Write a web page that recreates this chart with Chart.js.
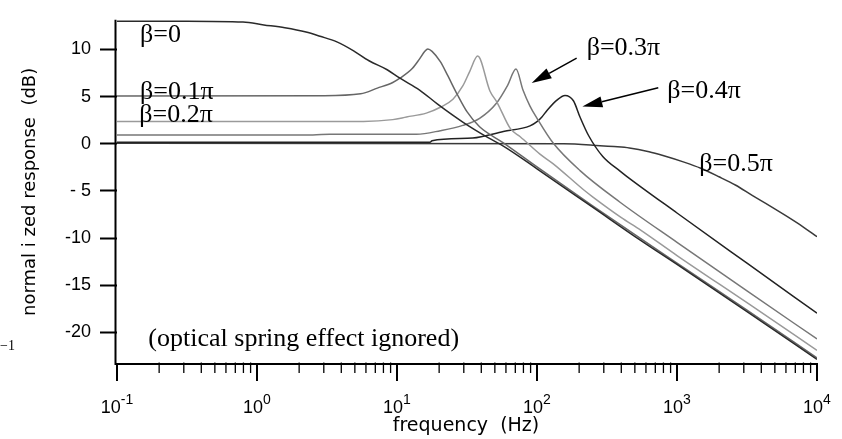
<!DOCTYPE html>
<html>
<head>
<meta charset="utf-8">
<script src="https://cdn.jsdelivr.net/npm/chart.js@4.4.1/dist/chart.umd.min.js"></script>
<style>
html,body{margin:0;padding:0;background:#fff;}
canvas{display:block;}
</style>
</head>
<body>
<canvas id="c" width="842" height="439"></canvas>
<script>
// ---- data (frequency in Hz, response in dB) ----
const seriesNames = ['β=0', 'β=0.1π', 'β=0.2π', 'β=0.3π', 'β=0.4π', 'β=0.5π'];

const freqB0 = [0.1, 0.316, 0.794, 1.12, 1.58, 2.24, 2.82, 3.72, 4.9, 6.31, 8.51, 10.5, 14.5, 19.5, 29.5, 44.7, 57.5, 100, 251, 550, 1000, 3162, 10000];
const dbB0   = [13.0, 13.0, 12.9, 12.6, 12.3, 11.85, 11.4, 10.8, 9.85, 8.8, 7.85, 6.95, 5.7, 4.2, 2.3, 0.65, -0.25, -2.65, -6.75, -10.25, -12.8, -17.8, -22.85];

const freqB1 = [0.1, 2.95, 5.5, 7.24, 9.33, 10.5, 12.9, 14.5, 15.8, 16.6, 17.8, 20.4, 22.9, 26.9, 31.6, 38.9, 57.5, 100, 251, 1000, 3162, 10000];
const dbB1   = [5.07, 5.1, 5.3, 5.9, 6.5, 6.95, 8.0, 9.0, 9.8, 10.05, 9.8, 8.7, 7.3, 5.25, 3.4, 1.8, 0.1, -2.45, -6.6, -12.65, -17.65, -22.7];

const freqB2 = [0.1, 5.75, 9.33, 11.7, 16.2, 20.4, 25.1, 29.5, 33.1, 37.7, 46.1, 51.8, 64.6, 75.9, 105, 130, 214, 251, 398, 550, 1000, 3162, 10000];
const dbB2   = [2.37, 2.37, 2.56, 2.84, 3.25, 3.87, 4.72, 6.13, 7.68, 9.3, 5.6, 4.4, 1.6, 0.75, -1.1, -2.1, -4.85, -5.65, -7.8, -9.15, -11.85, -16.85, -21.9];

const freqB3 = [0.1, 2.51, 3.31, 13.8, 20.4, 29.5, 38.9, 51.3, 61.7, 70.8, 79.4, 89.1, 100, 130, 203, 392, 1000, 3162, 10000];
const dbB3   = [0.93, 0.93, 1.01, 1.01, 1.39, 1.95, 2.7, 4.3, 6.2, 7.92, 5.7, 4.0, 2.7, 0.1, -2.85, -6.2, -10.45, -15.6, -20.7];

const freqB4 = [0.1, 17.2, 17.8, 34.7, 57.5, 89.1, 100, 108.4, 117.5, 138, 158.5, 182, 202.8, 234, 295, 392, 437, 1000, 3162, 10000];
const dbB4   = [0.15, 0.15, 0.33, 0.6, 1.29, 1.9, 2.35, 2.85, 3.5, 4.6, 5.13, 4.56, 2.84, 0.85, -1.35, -2.9, -3.45, -7.34, -12.66, -17.96];

const freqB5 = [0.1, 155, 282, 355, 457, 631, 794, 1122, 1479, 1995, 2630, 3467, 4571, 6026, 7943, 10000];
const dbB5   = [0.05, 0.0, -0.2, -0.3, -0.45, -0.85, -1.25, -1.95, -2.6, -3.5, -4.4, -5.5, -6.55, -7.65, -8.8, -9.85];

const yTickValues = [-20, -15, -10, -5, 0, 5, 10];
const yTickLabels = ['-20', '-15', '-10', '- 5', '0', '5', '10'];
const xTickExponents = [-1, 0, 1, 2, 3, 4];

// annotation texts anchored in data coordinates (left edge, baseline)
const noteTexts = ['β=0', 'β=0.1π', 'β=0.2π', 'β=0.3π', 'β=0.4π', 'β=0.5π', '(optical spring effect ignored)'];
const noteFreq  = [0.146, 0.146, 0.1443, 226.5, 853, 1442, 0.1675];
const noteDb    = [10.8, 4.72, 2.32, 9.36, 4.9, -2.94, -21.39];

// arrows: tail (freq, dB) -> tip (freq, dB)
const arrowTailF = [192, 735];
const arrowTailDb = [9.09, 5.93];
const arrowTipF = [91.6, 211];
const arrowTipDb = [6.44, 3.94];

// ---- build chart ----
const pts = (f, d) => f.map((v, i) => ({x: v, y: d[i]}));
const colors = ['#2a2a2a', '#666666', '#9a9a9a', '#777777', '#222222', '#3a3a3a'];
const allF = [freqB0, freqB1, freqB2, freqB3, freqB4, freqB5];
const allD = [dbB0, dbB1, dbB2, dbB3, dbB4, dbB5];
const datasets = seriesNames.map((n, i) => ({
  label: n,
  data: pts(allF[i], allD[i]),
  borderColor: colors[i],
  borderWidth: 1.5,
  pointRadius: 0,
  fill: false,
  cubicInterpolationMode: 'monotone'
}));

function drawArrow(ctx, x1, y1, x2, y2, len, hw) {
  const dx = x2 - x1, dy = y2 - y1, L = Math.hypot(dx, dy);
  const ux = dx / L, uy = dy / L;
  const bx = x2 - ux * len, by = y2 - uy * len;
  ctx.beginPath(); ctx.moveTo(x1, y1); ctx.lineTo(bx, by); ctx.stroke();
  ctx.beginPath();
  ctx.moveTo(x2, y2);
  ctx.lineTo(bx - uy * hw, by + ux * hw);
  ctx.lineTo(bx + uy * hw, by - ux * hw);
  ctx.closePath(); ctx.fill();
}

const decor = {
  id: 'decor',
  afterDraw(chart) {
    const {ctx, chartArea: a, scales} = chart;
    const xs = scales.x, ys = scales.y;
    ctx.save();
    ctx.strokeStyle = '#000'; ctx.fillStyle = '#000';
    // axis lines
    ctx.lineWidth = 2;
    ctx.beginPath();
    ctx.moveTo(a.left - 1.5, a.top); ctx.lineTo(a.left - 1.5, a.bottom + 1);
    ctx.moveTo(a.left - 2.5, a.bottom); ctx.lineTo(a.right + 1, a.bottom);
    ctx.stroke();
    // x major ticks
    for (const e of xTickExponents) {
      const px = xs.getPixelForValue(Math.pow(10, e));
      ctx.lineWidth = 2;
      ctx.beginPath(); ctx.moveTo(px, a.bottom); ctx.lineTo(px, a.bottom + 17); ctx.stroke();
    }
    // x minor ticks
    ctx.lineWidth = 1.3;
    for (let e = -1; e < 4; e++) {
      for (let m = 2; m < 10; m++) {
        const px = xs.getPixelForValue(m * Math.pow(10, e));
        ctx.beginPath(); ctx.moveTo(px, a.bottom - 1.5); ctx.lineTo(px, a.bottom + 9); ctx.stroke();
      }
    }
    // x tick labels 10^n
    for (const e of xTickExponents) {
      const px = xs.getPixelForValue(Math.pow(10, e));
      ctx.font = '18px "Liberation Sans", Arial, sans-serif';
      const wb = ctx.measureText('10').width;
      ctx.font = '14px "Liberation Sans", Arial, sans-serif';
      const es = String(e);
      const we = ctx.measureText(es).width;
      const x0 = px - (wb + we) / 2;
      ctx.textAlign = 'left'; ctx.textBaseline = 'alphabetic';
      ctx.font = '18px "Liberation Sans", Arial, sans-serif';
      ctx.fillText('10', x0, 413);
      ctx.font = '14px "Liberation Sans", Arial, sans-serif';
      ctx.fillText(es, x0 + wb, 403.5);
    }
    // axis titles
    ctx.font = '19px "DejaVu Sans", sans-serif';
    ctx.textAlign = 'center'; ctx.textBaseline = 'alphabetic';
    ctx.fillText('frequency  (Hz)', (a.left + a.right) / 2 - 1, 431);
    ctx.save();
    ctx.translate(35, (a.top + a.bottom) / 2);
    ctx.rotate(-Math.PI / 2);
    ctx.font = '18px "DejaVu Sans", sans-serif';
    ctx.fillText('normal i zed response  (dB)', 0, 0);
    ctx.restore();
    // stray label at left
    ctx.font = '14px "Liberation Serif", serif';
    ctx.textAlign = 'left';
    ctx.fillText('\u22121', 0, 350);
    // annotations
    ctx.font = '26px "Liberation Serif", "Times New Roman", serif';
    ctx.textAlign = 'left'; ctx.textBaseline = 'alphabetic';
    noteTexts.forEach((t, i) => {
      ctx.fillText(t, xs.getPixelForValue(noteFreq[i]), ys.getPixelForValue(noteDb[i]));
    });
    // arrows
    ctx.lineWidth = 1.5;
    for (let i = 0; i < arrowTailF.length; i++) {
      drawArrow(ctx,
        xs.getPixelForValue(arrowTailF[i]), ys.getPixelForValue(arrowTailDb[i]),
        xs.getPixelForValue(arrowTipF[i]), ys.getPixelForValue(arrowTipDb[i]), 20, 5.5);
    }
    ctx.restore();
  }
};

new Chart(document.getElementById('c').getContext('2d'), {
  type: 'line',
  data: {datasets},
  options: {
    responsive: false,
    animation: false,
    devicePixelRatio: 1,
    layout: {padding: {top: 10, right: 25, left: 0, bottom: 0}},
    plugins: {legend: {display: false}, tooltip: {enabled: false}},
    scales: {
      x: {
        type: 'logarithmic', min: 0.1, max: 10000,
        grid: {display: false}, border: {display: false},
        ticks: {display: false},
        afterFit(s) { s.height = 75; }
      },
      y: {
        type: 'linear', min: -23.35, max: 13.144,
        afterBuildTicks(s) { s.ticks = yTickValues.map(v => ({value: v})); },
        ticks: {
          autoSkip: false,
          padding: 9,
          color: '#000',
          font: {family: '"Liberation Sans", Arial, sans-serif', size: 18},
          callback: (v) => { const i = yTickValues.indexOf(v); return i >= 0 ? yTickLabels[i] : ''; }
        },
        grid: {drawOnChartArea: false, tickLength: 17, tickWidth: 2, tickColor: '#000'},
        border: {display: false},
        afterFit(s) { s.width = 117; }
      }
    }
  },
  plugins: [decor]
});
</script>
</body>
</html>
